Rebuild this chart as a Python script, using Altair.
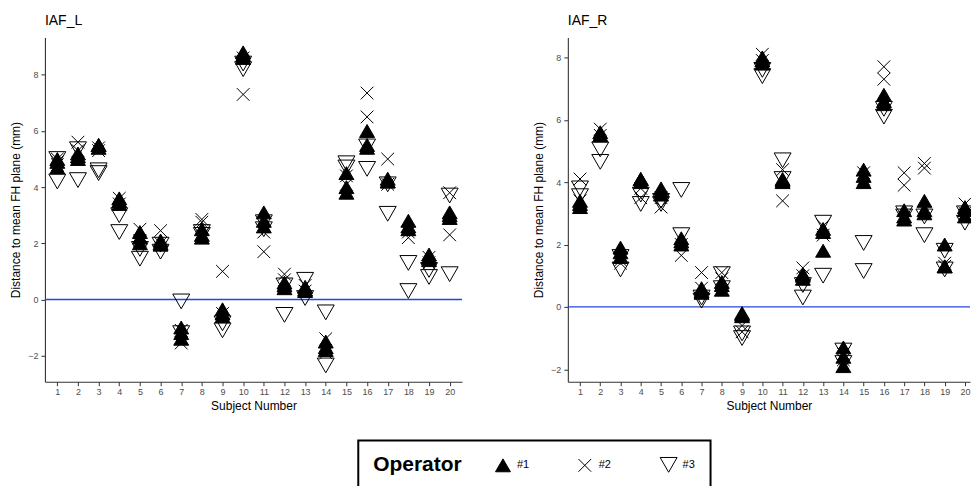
import altair as alt
import pandas as pd

subjects = list(range(1, 21))
operators = ["#1", "#2", "#3"]

# IAF_L values per subject (repeated measurements)
L_op1 = [[4.9, 4.7, 5.0], [5.0, 5.2, 5.1], [5.5, 5.4, 5.5], [3.6, 3.4, 3.5], [2.4, 2.2, 2.0],
         [2.1, 2.0, 1.95], [-1.0, -1.2, -1.4], [2.5, 2.3, 2.2], [-0.35, -0.5, -0.6], [8.8, 8.7, 8.6],
         [3.1, 2.8, 2.6], [0.6, 0.5, 0.4], [0.45, 0.35, 0.3], [-1.5, -1.7, -1.8], [4.5, 4.0, 3.8],
         [6.0, 5.5, 5.4], [4.3, 4.2, 4.2], [2.8, 2.5, 2.6], [1.5, 1.6, 1.4], [3.1, 3.0, 2.9]]
L_op2 = [[4.9, 5.0, 4.8], [5.6, 5.3], [5.4, 5.3], [3.6, 3.4], [2.5, 2.1],
         [2.45, 2.0], [-1.55, -1.1], [2.85, 2.75], [1.0, -0.5], [7.3, 8.6],
         [2.4, 1.7], [0.9, 0.7], [0.5, 0.3], [-1.4, -1.9], [4.1, 4.4],
         [7.35, 6.5], [5.0, 4.1], [2.2, 2.4], [1.5, 1.3], [3.8, 2.3]]
L_op3 = [[5.0, 4.2], [5.35, 4.25], [4.5, 4.6], [3.0, 2.4], [1.8, 1.45],
         [1.7, 1.95], [-0.07, -1.2], [2.4, 2.3], [-0.85, -1.1], [8.2, 8.4],
         [2.75, 2.5], [-0.55, 0.5], [0.7, 0.05], [-0.46, -2.35], [4.85, 4.7],
         [5.45, 4.65], [4.1, 3.05], [1.3, 0.3], [1.05, 0.8], [3.7, 0.9]]

# IAF_R values per subject (repeated measurements)
R_op1 = [[3.2, 3.3, 3.4], [5.6, 5.5, 5.5], [1.9, 1.75, 1.6], [4.1, 4.0, 4.1], [3.8, 3.7, 3.6],
         [2.2, 2.1, 2.0], [0.6, 0.5, 0.45], [0.8, 0.7, 0.55], [-0.2, -0.3, -0.25], [8.0, 7.9, 7.8],
         [4.1, 4.0, 4.05], [1.0, 0.9, 1.05], [2.5, 2.4, 1.8], [-1.3, -1.6, -1.9], [4.4, 4.0, 4.2],
         [6.8, 6.6, 6.5], [3.1, 2.9, 2.8], [3.4, 3.0, 3.1], [2.0, 1.3, 1.3], [3.2, 3.1, 2.9]]
R_op2 = [[4.1, 3.4], [5.7, 5.5], [1.5, 1.4], [3.8, 3.5], [3.5, 3.2],
         [2.0, 1.65], [1.1, 0.6], [1.1, 0.9], [-0.6, -0.8], [8.1, 7.9],
         [4.4, 3.4], [1.25, 1.0], [2.6, 2.3], [-1.5, -1.7], [4.3, 4.1],
         [7.7, 7.3], [4.3, 3.9], [4.6, 4.45], [1.4, 1.3], [3.3, 3.0]]
R_op3 = [[3.8, 3.55], [5.05, 4.65], [1.6, 1.2], [3.6, 3.3], [3.4, 3.3],
         [3.75, 2.3], [0.3, 0.2], [1.05, 0.6], [-0.85, -1.0], [7.6, 7.4],
         [4.7, 4.1], [0.7, 0.3], [2.7, 1.0], [-1.4, -1.8], [2.05, 1.15],
         [6.35, 6.1], [3.0, 2.9], [2.9, 2.3], [1.8, 1.2], [3.0, 2.7]]

rows = []
for panel_name, sets in (("IAF_L", [L_op1, L_op2, L_op3]), ("IAF_R", [R_op1, R_op2, R_op3])):
    for op, vals in zip(operators, sets):
        for s, vs in zip(subjects, vals):
            for v in vs:
                rows.append({"Panel": panel_name, "Subject": s, "Operator": op, "Value": v})
df = pd.DataFrame(rows)

shape_paths = [
    "M0,-0.76L0.88,0.76L-0.88,0.76Z",
    "M-0.75,-0.75L0.75,0.75M-0.75,0.75L0.75,-0.75",
    "M0,0.87L1,-0.87L-1,-0.87Z",
]
fills = ["black", "transparent", "transparent"]
strokes = ["black", "black", "black"]

leg = alt.Legend(
    title="Operator", orient="none", legendX=314, legendY=404,
    direction="horizontal", titleOrient="left", titleBaseline="middle",
    titleFontSize=21, titleFontWeight="bold", titleColor="black",
    titlePadding=32, labelFontSize=11, labelColor="black", labelOffset=5,
    labelBaseline="middle",
    columnPadding=46, symbolSize=289, symbolStrokeColor="black",
    symbolStrokeWidth=1, padding=15, strokeColor="black",
)


def make_panel(name, ydom, xdom, width):
    pts = alt.Chart(df).transform_filter(alt.datum.Panel == name).mark_point(
        strokeWidth=1, size=289, opacity=1
    ).encode(
        x=alt.X("Subject:Q",
                scale=alt.Scale(domain=xdom, nice=False, zero=False),
                axis=alt.Axis(values=subjects, format="d", title="Subject Number")),
        y=alt.Y("Value:Q",
                scale=alt.Scale(domain=ydom, nice=False, zero=False),
                axis=alt.Axis(values=[-2, 0, 2, 4, 6, 8], format="d",
                              title="Distance to mean FH plane (mm)")),
        shape=alt.Shape("Operator:N", scale=alt.Scale(domain=operators, range=shape_paths), legend=leg),
        fill=alt.Fill("Operator:N", scale=alt.Scale(domain=operators, range=fills), legend=leg),
        stroke=alt.Stroke("Operator:N", scale=alt.Scale(domain=operators, range=strokes), legend=leg),
    )
    rule = alt.Chart(pd.DataFrame({"z": [0]})).mark_rule(
        color="#2446e0", strokeWidth=1.4
    ).encode(y=alt.datum(0))
    return alt.layer(rule, pts).properties(
        width=width, height=345,
        title=alt.TitleParams(name, anchor="start", frame="group", fontSize=14,
                              fontWeight="normal", color="black", offset=9,
                              font="Liberation Sans"),
    )


left = make_panel("IAF_L", [-2.93, 9.33], [0.4, 20.6], 418)
right = make_panel("IAF_R", [-2.4, 8.64], [0.4, 20.25], 403)

chart = alt.hconcat(left, right, spacing=69).properties(
    padding={"left": 1, "top": 6, "right": -5, "bottom": 0},
    background="white",
).configure_view(stroke=None).configure_axis(
    grid=False, domainColor="#333333", domainWidth=1.1, tickColor="#333333",
    tickSize=4, labelColor="#4d4d4d", labelFontSize=9, labelFont="Liberation Sans",
    titleFont="Liberation Sans", titleFontSize=12, titleFontWeight="normal",
    titleColor="black",
).configure_axisX(labelPadding=2, titlePadding=4).configure_axisY(
    labelPadding=3, titlePadding=5
).configure_legend(
    strokeWidth=2, labelFont="Liberation Sans", titleFont="Liberation Sans"
)

chart.save("out.html", embed_options={"renderer": "svg", "actions": False})
